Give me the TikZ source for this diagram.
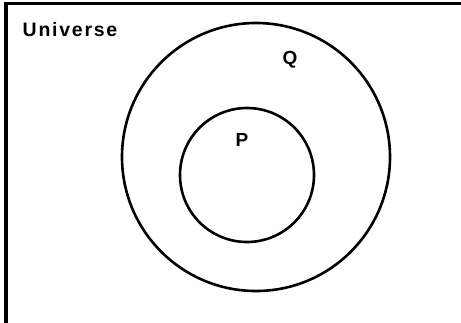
\documentclass[tikz,border=0pt]{standalone}
\usepackage{fontspec}
\setmainfont{Liberation Sans}
\newfontfamily\lblfont[LetterSpace=9]{Liberation Sans}
\newfontfamily\letfont{Liberation Sans}
\begin{document}
\begin{tikzpicture}[x=1pt,y=-1pt,
  setcircle/.style={circle, draw=black, line width=2.6pt, inner sep=0pt},
  lbl/.style={font=\letfont\bfseries\fontsize{19}{21}\selectfont, inner sep=0pt, text=black},
  title/.style={font=\lblfont\bfseries\fontsize{19.5}{22}\selectfont, inner sep=0pt, text=black}]
\useasboundingbox (0,0) rectangle (461,322);
\fill[white] (0,0) rectangle (461,322);
\begin{scope}
\clip (0,0) rectangle (461,322);
\node[draw=black, line width=3.6pt, minimum width=480pt, minimum height=340pt, anchor=north west, inner sep=0pt, outer sep=0pt] (U) at (6.2,3.4) {};
\end{scope}
\node[setcircle, minimum size=268pt] (Q) at (256,157) {};
\node[setcircle, minimum size=134pt] (P) at (247,175) {};
\node[title, anchor=west] (Ulbl) at (22.5,30) {Universe};
\node[lbl] (Qlbl) at (290,59.5) {Q};
\node[lbl] (Plbl) at (242,140) {P};
\end{tikzpicture}
\end{document}
